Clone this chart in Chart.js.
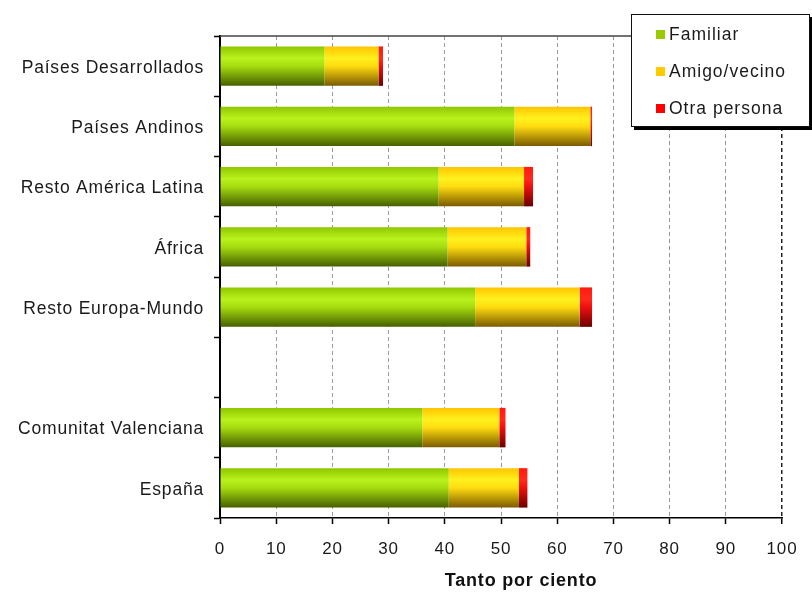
<!DOCTYPE html>
<html>
<head>
<meta charset="utf-8">
<script src="https://cdn.jsdelivr.net/npm/chart.js@4.4.1/dist/chart.umd.min.js"></script>
<style>
  html, body { margin: 0; padding: 0; background: #fff; }
  #wrap { position: relative; width: 812px; height: 595px; }
  #legend {
    position: absolute; left: 631px; top: 14px; width: 179px; height: 113px;
    background: #fff; border: 1px solid #111; box-shadow: 3px 3px 0 #000;
    box-sizing: border-box;
    font-family: "Liberation Sans", Arial, sans-serif; font-size: 17.5px;
    letter-spacing: 1px; color: #1a1a1a;
  }
  #legend .item { position: absolute; left: 24px; height: 20px; line-height: 20px; display: flex; align-items: center; white-space: nowrap; }
  #legend .sw { width: 9px; height: 9px; margin-right: 4px; flex: none; }
</style>
</head>
<body>
<div id="wrap">
  <canvas id="chart" width="812" height="595"></canvas>
  <div id="legend"></div>
</div>
<script>
// Share of responses by who helped, per origin group (percent)
const categories = ['Países Desarrollados', 'Países Andinos', 'Resto América Latina', 'África',
                    'Resto Europa-Mundo', '', 'Comunitat Valenciana', 'España'];
const familiar    = [18.6, 52.4, 38.9, 40.5, 45.4, null, 36.0, 40.7];
const amigoVecino = [ 9.6, 13.5, 15.2, 14.0, 18.6, null, 13.7, 12.5];
const otraPersona = [ 0.8,  0.3,  1.6,  0.7,  2.2, null,  1.1,  1.5];
const seriesNames = ['Familiar', 'Amigo/vecino', 'Otra persona'];
const xMin = 0, xMax = 100, xStep = 10;
const axisTitle = 'Tanto por ciento';

const BAR_PCT = 0.655;
const FONT = '"Liberation Sans", Arial, sans-serif';

// vertical shading for each bar: light top, bright band, dark bottom
const greenStops  = [[0, '#8fc600'], [0.3, '#b9f21c'], [0.5, '#a6dc10'], [1, '#465f00']];
const yellowStops = [[0, '#ffc400'], [0.3, '#fff11e'], [0.5, '#ffdc10'], [1, '#7a5a00']];
const redStops    = [[0, '#ff1a10'], [0.3, '#ff2a1e'], [0.5, '#ee1010'], [1, '#6a0000']];

function barGradient(stops) {
  return (ctx) => {
    const chart = ctx.chart;
    const y = chart.scales && chart.scales.y;
    if (ctx.type !== 'data' || !y || !y.height) return stops[1][1];
    const center = y.getPixelForValue(ctx.dataIndex);
    const half = (y.height / categories.length) * BAR_PCT / 2;
    const g = chart.ctx.createLinearGradient(0, center - half, 0, center + half);
    stops.forEach(([o, c]) => g.addColorStop(o, c));
    return g;
  };
}

// top edge of the plot frame
const frameTop = {
  id: 'frameTop',
  beforeDatasetsDraw(chart) {
    const { ctx, chartArea } = chart;
    ctx.save();
    ctx.strokeStyle = '#444';
    ctx.lineWidth = 1.5;
    ctx.beginPath();
    ctx.moveTo(chartArea.left, chartArea.top);
    ctx.lineTo(chartArea.right, chartArea.top);
    ctx.stroke();
    ctx.restore();
  }
};

// value-axis title, set a little right of the plot centre, below the tick labels
const valueTitle = {
  id: 'valueTitle',
  afterDraw(chart) {
    const { ctx, chartArea, height } = chart;
    ctx.save();
    ctx.letterSpacing = '0.8px';
    ctx.font = 'bold 18px ' + FONT;
    ctx.fillStyle = '#111';
    ctx.textAlign = 'center';
    ctx.textBaseline = 'middle';
    ctx.fillText(axisTitle, (chartArea.left + chartArea.right) / 2 + 20, height - 14);
    ctx.restore();
  }
};

// slightly wider glyph spacing for all canvas text
const spacing = {
  id: 'spacing',
  beforeDraw(chart) { chart.ctx.letterSpacing = '0.8px'; },
  afterDraw(chart) { chart.ctx.letterSpacing = '0px'; }
};

const chart = new Chart(document.getElementById('chart'), {
  type: 'bar',
  data: {
    labels: categories,
    datasets: [
      { label: seriesNames[0], data: familiar,    backgroundColor: barGradient(greenStops),  legendColor: '#99cc00' },
      { label: seriesNames[1], data: amigoVecino, backgroundColor: barGradient(yellowStops), legendColor: '#ffcc00' },
      { label: seriesNames[2], data: otraPersona, backgroundColor: barGradient(redStops),    legendColor: '#ff0000' }
    ]
  },
  options: {
    indexAxis: 'y',
    responsive: false,
    animation: false,
    events: [],
    categoryPercentage: 1,
    barPercentage: BAR_PCT,
    layout: { padding: { top: 36, right: 30, left: 0, bottom: 0 } },
    plugins: { legend: { display: false }, tooltip: { enabled: false } },
    scales: {
      x: {
        stacked: true,
        min: xMin, max: xMax,
        ticks: { stepSize: xStep, color: '#1a1a1a', padding: 15, font: { family: FONT, size: 17 } },
        grid: {
          color: (c) => (c.tick && c.tick.value === xMax ? '#222' : '#9a9a9a'),
          lineWidth: (c) => (c.tick && c.tick.value === xMax ? 1.5 : 1),
          tickColor: '#000', tickLength: 6, tickWidth: 1.5
        },
        border: { color: '#000', width: 1.5, dash: [4, 3] },
        title: { display: false },
        afterFit(scale) { scale.height = 77; }
      },
      y: {
        stacked: true,
        ticks: { color: '#1a1a1a', padding: 10, labelOffset: 2, font: { family: FONT, size: 17.5 } },
        grid: { drawOnChartArea: false, tickColor: '#000', tickLength: 6, tickWidth: 1.5 },
        border: { color: '#000', width: 2 },
        afterFit(scale) { scale.width = 220; }
      }
    }
  },
  plugins: [frameTop, spacing, valueTitle]
});

// legend box built from the chart's datasets
const legendEl = document.getElementById('legend');
chart.data.datasets.forEach((ds, i) => {
  const item = document.createElement('div');
  item.className = 'item';
  item.style.top = (9 + i * 37) + 'px';
  const sw = document.createElement('span');
  sw.className = 'sw';
  sw.style.background = ds.legendColor;
  const tx = document.createElement('span');
  tx.textContent = ds.label;
  item.appendChild(sw);
  item.appendChild(tx);
  legendEl.appendChild(item);
});
</script>
</body>
</html>
